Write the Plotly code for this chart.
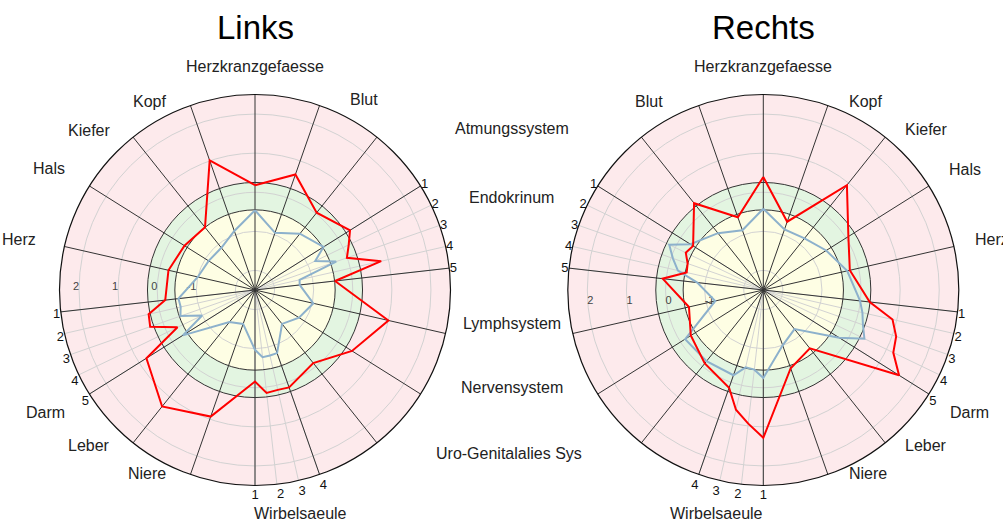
import plotly.graph_objects as go

N_AXES = 56
STEP = 360.0 / N_AXES

# axis indices (of 56 equally spaced spokes)
point_idx = [0, 3, 6, 9, 10, 11, 12, 13, 16, 19, 22, 25, 26, 27, 28,
             31, 34, 37, 38, 39, 40, 41, 44, 47, 50, 53]
main_idx = [0, 3, 6, 9, 13, 16, 19, 22, 25, 28, 31, 34, 37, 41, 44, 47, 50, 53]
numbered_idx = [9, 10, 11, 12, 13, 25, 26, 27, 28, 37, 38, 39, 40, 41]
numbered_text = ["1", "2", "3", "4", "5", "4", "3", "2", "1", "5", "4", "3", "2", "1"]

radial_ticks = [-2, -1, 0, 1, 2]
radial_ticktext = ["", "-1", "0", "1", "2"]
zone_limits = [-2.5, -0.45, 0.25, 2.5]   # yellow / green / pink

# values
links_red = [0.18, 0.63, 0.03, 0.37, 0.16, -0.01, 0.81, -0.44, 1.0, 0.43, -0.11, 0.14, 0.12, 0.15, -0.16,
             0.93, 1.31, 0.78, -0.30, 0.34, 0.29, -0.19, -0.23, -0.37, -0.45, 1.01]
links_blue = [-0.46, -0.95, -0.66, -0.43, -0.79, -0.30, -1.33, -1.35, -0.97, -1.17, -1.39, -0.79, -0.78, -0.77, -0.97,
              -1.58, -1.45, -0.32, -1.0, -0.48, -0.55, -0.53, -1.0, -1.1, -1.12, -0.90]
rechts_red = [0.39, -0.53, 0.34, -0.38, -0.30, -0.45, -0.49, 0.09, -0.55, -0.31, -0.10, 0.15, 0.64, 0.94, 1.28,
              -0.38, -0.59, 1.60, 1.19, 1.10, 0.89, 0.24, -0.23, 0.07, 0.93, -0.65]
rechts_blue = [-0.42, -0.88, -0.64, -0.30, 0.17, -0.05, -0.26, -0.80, -1.24, -0.14, -0.17, -0.19, -0.47, -0.45, -0.25,
               -1.0, -1.22, -0.21, 0.37, 0.20, 0.10, -0.01, -0.30, -0.60, -0.81, -0.86]

labels_left = ["Herzkranzgefaesse", "Blut", "Atmungssystem", "Endokrinum", "Lymphsystem",
               "Nervensystem", "Uro-Genitalalies Sys", "Wirbelsaeule", "Niere", "Leber",
               "Darm", "Herz", "Hals", "Kiefer", "Kopf"]
labels_right = ["Herzkranzgefaesse", "Kopf", "Kiefer", "Hals", "Herz", "Darm", "Leber",
                "Niere", "Wirbelsaeule", "Blut"]
titles = ["Links", "Rechts"]

RED = "#ff0000"
BLUE = "#8db1cc"
PINK = "#fdeaec"
GREEN = "#e3f5e1"
YELLOW = "#fefee4"
DARK = "#333333"
GRID = "#d2d2d2"

W, H = 1003, 523
R_PX = 195.5
centers = [(255.0, 290.0), (763.3, 290.0)]


def dom(c):
    cx, cy = c
    return dict(x=[(cx - R_PX) / W, (cx + R_PX) / W],
                y=[1 - (cy + R_PX) / H, 1 - (cy - R_PX) / H])


fig = go.Figure()
deg = lambda lst: [i * STEP for i in lst]

layout = {}
for k, (c, direction) in enumerate(zip(centers, ["clockwise", "counterclockwise"])):
    pa = "polar" if k == 0 else f"polar{3*k+1}"
    pb, pc = f"polar{3*k+2}", f"polar{3*k+3}"
    d = dom(c)
    common_ang = dict(rotation=90, direction=direction, showticklabels=False,
                      ticks="", showline=False, showgrid=False)
    common_rad = dict(range=[zone_limits[0], zone_limits[-1]], showticklabels=False,
                      ticks="", showline=False, showgrid=False)
    layout[pa] = dict(domain=d, bgcolor=PINK, angularaxis=dict(common_ang),
                      radialaxis=dict(common_rad))
    layout[pb] = dict(domain=d, bgcolor="rgba(0,0,0,0)",
                      angularaxis=dict(common_ang, showgrid=True, gridcolor=GRID, gridwidth=1,
                                       tickmode="array", tickvals=deg(numbered_idx),
                                       ticktext=numbered_text, showticklabels=True,
                                       tickfont=dict(family="Liberation Sans", size=13, color="#111")),
                      radialaxis=dict(common_rad, showgrid=True, gridcolor=GRID, gridwidth=1,
                                      tickmode="array", tickvals=radial_ticks,
                                      ticktext=radial_ticktext, showticklabels=True, angle=180,
                                      tickangle=180,
                                      side="clockwise" if k == 0 else "counterclockwise",
                                      tickfont=dict(family="Liberation Sans", size=11, color="#444")))
    layout[pc] = dict(domain=d, bgcolor="rgba(0,0,0,0)",
                      angularaxis=dict(common_ang, showgrid=True, gridcolor=DARK, gridwidth=1,
                                       tickmode="array", tickvals=deg(main_idx),
                                       showline=True, linecolor="#111", linewidth=1.2),
                      radialaxis=dict(common_rad, showgrid=True, gridcolor=DARK, gridwidth=1,
                                      tickmode="array", tickvals=zone_limits[1:3]))

    fig.add_trace(go.Barpolar(r=[zone_limits[2] - zone_limits[1]] * 2, base=[zone_limits[1]] * 2,
                              theta=[90, 270], width=[180, 180], marker=dict(color=GREEN, line=dict(width=0)),
                              subplot=pa, hoverinfo="skip", showlegend=False))
    fig.add_trace(go.Barpolar(r=[zone_limits[1] - zone_limits[0]] * 2, base=[zone_limits[0]] * 2,
                              theta=[90, 270], width=[180, 180], marker=dict(color=YELLOW, line=dict(width=0)),
                              subplot=pa, hoverinfo="skip", showlegend=False))
    fig.add_trace(go.Scatterpolar(r=[zone_limits[0]], theta=[0], mode="markers",
                                  marker=dict(opacity=0), subplot=pb, hoverinfo="skip", showlegend=False))
    reds = [links_red, rechts_red][k]
    blues = [links_blue, rechts_blue][k]
    th = deg(point_idx) + [0]
    fig.add_trace(go.Scatterpolar(r=blues + blues[:1], theta=th, mode="lines",
                                  line=dict(color=BLUE, width=2), subplot=pc, showlegend=False))
    fig.add_trace(go.Scatterpolar(r=reds + reds[:1], theta=th, mode="lines",
                                  line=dict(color=RED, width=2), subplot=pc, showlegend=False))

fig.update_layout(**layout)

ann = []
FONT = dict(family="Liberation Sans", size=16, color="#222")


def add(text, x, y, anchor):
    ann.append(dict(text=text, x=x / W, y=1 - y / H, xref="paper", yref="paper",
                    xanchor=anchor, yanchor="middle", showarrow=False, font=FONT))


pos_left = [(255, 67, "center"), (364, 100, "center"), (453, 128, "left"), (467, 198, "left"),
            (461, 323, "left"), (459, 387, "left"), (434, 453, "left"), (300, 513, "center"),
            (168, 473, "right"), (112, 445, "right"), (67, 412, "right"), (38, 240, "right"),
            (67, 168, "right"), (112, 130, "right"), (168, 101, "right")]
for t, (x, y, a) in zip(labels_left, pos_left):
    add(t, x, y, a)
pos_right = [(762.5, 67, "center"), (847, 101, "left"), (903, 129, "left"), (947, 169, "left"),
             (973, 240, "left"), (948, 412, "left"), (903, 445, "left"), (847, 473, "left"),
             (716, 513, "center"), (665, 101, "right")]
for t, (x, y, a) in zip(labels_right, pos_right):
    add(t, x, y, a)

for t, c in zip(titles, centers):
    ann.append(dict(text=t, x=c[0] / W, y=1 - 28 / H, xref="paper", yref="paper",
                    xanchor="center", yanchor="middle", showarrow=False,
                    font=dict(family="Liberation Sans", size=33, color="#000")))

fig.update_layout(annotations=ann, width=W, height=H, margin=dict(l=0, r=0, t=0, b=0),
                  paper_bgcolor="white", plot_bgcolor="white", showlegend=False)
fig.write_html("out.html", post_script="document.body.style.margin='0px';",
               config={"displayModeBar": False})
